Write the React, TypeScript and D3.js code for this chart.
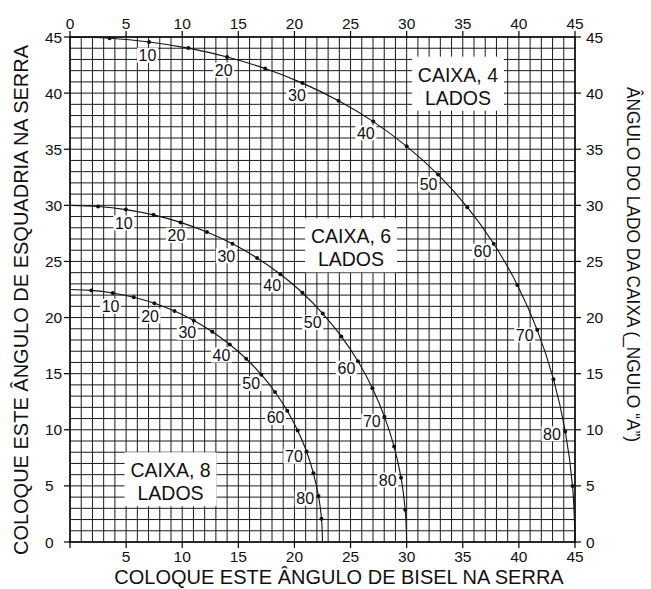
import React from "react";
import * as d3 from "d3";

// Box side angle (parameter of every curve), degrees
const sideAngles = [0, 5, 10, 15, 20, 25, 30, 35, 40, 45, 50, 55, 60, 65, 70, 75, 80, 85, 90];
const labelledAngles = [10, 20, 30, 40, 50, 60, 70, 80];

// 4-sided box: bevel (x) and miter (y) angles
const bevel4 = [0, 3.53, 7.05, 10.55, 14.0, 17.39, 20.71, 23.93, 27.03, 30.0, 32.8, 35.4, 37.76, 39.86, 41.64, 43.08, 44.13, 44.78, 45];
const miter4 = [45, 44.89, 44.56, 44.01, 43.22, 42.19, 40.89, 39.32, 37.46, 35.26, 32.74, 29.84, 26.57, 22.91, 18.88, 14.51, 9.85, 4.98, 0];
// 6-sided box
const bevel6 = [0, 2.5, 4.98, 7.44, 9.85, 12.2, 14.48, 16.67, 18.75, 20.71, 22.52, 24.18, 25.66, 26.95, 28.02, 28.88, 29.5, 29.87, 30];
const miter6 = [30, 29.9, 29.62, 29.15, 28.48, 27.62, 26.57, 25.31, 23.86, 22.21, 20.36, 18.32, 16.1, 13.71, 11.17, 8.5, 5.73, 2.88, 0];
// 8-sided box
const bevel8 = [0, 1.91, 3.81, 5.68, 7.52, 9.31, 11.03, 12.68, 14.24, 15.7, 17.05, 18.27, 19.36, 20.29, 21.08, 21.69, 22.14, 22.41, 22.5];
const miter8 = [22.5, 22.42, 22.19, 21.81, 21.27, 20.58, 19.74, 18.74, 17.6, 16.33, 14.91, 13.37, 11.7, 9.93, 8.06, 6.12, 4.11, 2.07, 0];

const boxNames = ["CAIXA, 4", "CAIXA, 6", "CAIXA, 8"];
const boxSub = "LADOS";

const xTicks = [0, 5, 10, 15, 20, 25, 30, 35, 40, 45];
const yTicks = [0, 5, 10, 15, 20, 25, 30, 35, 40, 45];

const xTitle = "COLOQUE ESTE ÂNGULO DE BISEL NA SERRA";
const yTitle = "COLOQUE ESTE ÂNGULO DE ESQUADRIA NA SERRA";
const y2Title = "ÂNGULO DO LADO DA CAIXA (_NGULO “A”)";

const FONT = "'Liberation Sans', Arial, Helvetica, sans-serif";

export default function App() {
  const W = 651, H = 589;
  const x = d3.scaleLinear().domain([0, 45]).range([70, 575]);
  const y = d3.scaleLinear().domain([0, 45]).range([542, 37]);
  const grid = d3.range(0, 46);

  const series = [
    { bx: bevel4, my: miter4, box: { name: boxNames[0], cx: 34.57, b1: 41.02 } },
    { bx: bevel6, my: miter6, box: { name: boxNames[1], cx: 25.04, b1: 26.62 } },
    { bx: bevel8, my: miter8, box: { name: boxNames[2], cx: 8.96, b1: 5.77 } },
  ];

  const line = d3
    .line<[number, number]>()
    .x((d) => x(d[0]))
    .y((d) => y(d[1]))
    .curve(d3.curveCatmullRom.alpha(0.5));

  const fsTick = 15.5;
  const fsLab = 16;

  return (
    <svg width={W} height={H} style={{ display: "block", position: "absolute", left: 0, top: 0 }} fontFamily={FONT}>
      <rect x={0} y={0} width={W} height={H} fill="#fff" />
      {/* grid */}
      <g stroke="#1a1a1a" strokeWidth={1}>
        {grid.map((v) => (
          <line key={"gx" + v} x1={x(v)} x2={x(v)} y1={y(0)} y2={y(45)} />
        ))}
        {grid.map((v) => (
          <line key={"gy" + v} x1={x(0)} x2={x(45)} y1={y(v)} y2={y(v)} />
        ))}
      </g>
      {/* frame */}
      <rect x={x(0)} y={y(45)} width={x(45) - x(0)} height={y(0) - y(45)} fill="none" stroke="#000" strokeWidth={1.4} />
      {/* ticks */}
      <g stroke="#000" strokeWidth={1.2}>
        {xTicks.map((v) => (
          <g key={"tx" + v}>
            <line x1={x(v)} x2={x(v)} y1={y(45)} y2={y(45) - 6} />
            <line x1={x(v)} x2={x(v)} y1={y(0)} y2={y(0) + 6} />
          </g>
        ))}
        {yTicks.map((v) => (
          <g key={"ty" + v}>
            <line x1={x(0)} x2={x(0) - 6} y1={y(v)} y2={y(v)} />
            <line x1={x(45)} x2={x(45) + 6} y1={y(v)} y2={y(v)} />
          </g>
        ))}
      </g>
      {/* tick labels */}
      <g fontSize={fsTick} fill="#111">
        {xTicks.map((v) => (
          <text key={"lt" + v} x={x(v)} y={28.5} textAnchor="middle">{v}</text>
        ))}
        {xTicks.filter((v) => v > 0).map((v) => (
          <text key={"lb" + v} x={x(v)} y={562} textAnchor="middle">{v}</text>
        ))}
        {yTicks.map((v) => (
          <text key={"ll" + v} x={45} y={y(v) + 5.5} textAnchor="start">{v}</text>
        ))}
        {yTicks.map((v) => (
          <text key={"lr" + v} x={586} y={y(v) + 5.5} textAnchor="start">{v}</text>
        ))}
      </g>
      {/* box name labels */}
      {series.map((s, i) => {
        const cx = x(s.box.cx);
        const b1 = y(s.box.b1);
        return (
          <g key={"box" + i}>
            <rect x={cx - 46} y={b1 - 25} width={92} height={54} fill="#fff" />
            <text x={cx} y={b1} textAnchor="middle" fontSize={19.5} fill="#111">{s.box.name}</text>
            <text x={cx} y={b1 + 23} textAnchor="middle" fontSize={19.5} fill="#111">{boxSub}</text>
          </g>
        );
      })}
      {/* curves */}
      {series.map((s, i) => {
        const pts: [number, number][] = s.bx.map((b, k) => [b, s.my[k]]);
        const labels = labelledAngles.map((a) => {
          const k = sideAngles.indexOf(a);
          const p0 = [x(pts[k - 1][0]), y(pts[k - 1][1])];
          const p1 = [x(pts[k + 1][0]), y(pts[k + 1][1])];
          const tx = p1[0] - p0[0], ty = p1[1] - p0[1];
          const len = Math.hypot(tx, ty);
          const nx = -ty / len, ny = tx / len;
          const d = 13.5;
          return { a, cx: x(pts[k][0]) + nx * d, cy: y(pts[k][1]) + ny * d };
        });
        return (
          <g key={"c" + i}>
            {labels.map((l) => (
              <rect key={"lbg" + l.a} x={l.cx - 10.5} y={l.cy - 7.5} width={21} height={15} fill="#fff" />
            ))}
            <path d={line(pts) || ""} fill="none" stroke="#111" strokeWidth={1.1} />
            {pts.slice(1, -1).map((p, k) => (
              <circle key={"d" + k} cx={x(p[0])} cy={y(p[1])} r={2} fill="#111" />
            ))}
            {labels.map((l) => (
              <text key={"lt" + l.a} x={l.cx} y={l.cy + 5.7} textAnchor="middle" fontSize={fsLab} fill="#111">{l.a}</text>
            ))}
          </g>
        );
      })}
      {/* axis titles */}
      <text x={339} y={584} textAnchor="middle" fontSize={20} fill="#111">{xTitle}</text>
      <text transform="translate(28,300) rotate(-90)" textAnchor="middle" fontSize={20} fill="#111">{yTitle}</text>
      <text transform="translate(627,264.5) rotate(90)" textAnchor="middle" fontSize={19} fill="#111" textLength={355} lengthAdjust="spacingAndGlyphs">{y2Title}</text>
    </svg>
  );
}
